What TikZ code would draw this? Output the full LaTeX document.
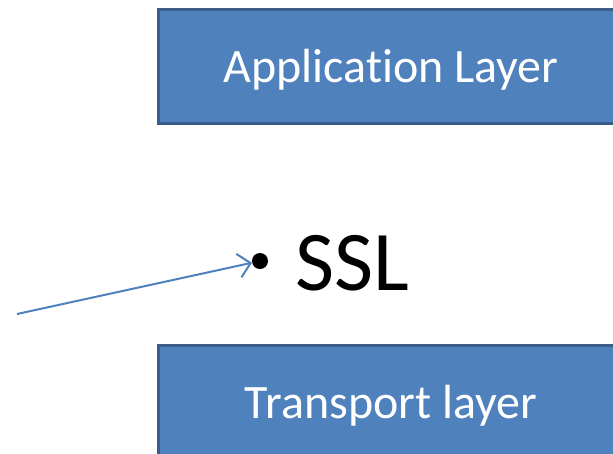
\documentclass[tikz,border=0pt]{standalone}
\usepackage{fontspec}
\setmainfont{Carlito}[Ligatures=NoCommon]
\usetikzlibrary{arrows.meta}

\definecolor{boxblue}{HTML}{4F81BD}
\definecolor{boxedge}{HTML}{385D8A}

\tikzset{
  layerbox/.style={draw=boxedge, line width=3pt, fill=boxblue, text=white,
    minimum width=466pt, minimum height=114pt, text height=36pt, text depth=4pt,
    font=\fontsize{48}{48}\selectfont},
}

\begin{document}
\begin{tikzpicture}[x=1pt, y=-1pt]
\useasboundingbox (0,0) rectangle (613,453);
\clip (0,0) rectangle (613,453);

\node[layerbox] (app) at (391,66) {Application Layer};
\node[layerbox] (trans) at (391,402) {Transport layer};

% SSL 항목
\node[circle, fill=black, inner sep=0pt, minimum size=16pt] (bul) at (260,261) {};
\node[anchor=base west, inner sep=0pt, font=\fontsize{85}{85}\selectfont] (ssl) at (295,290) {SSL};

\coordinate (src) at (17,314);
\draw[-{Straight Barb[length=12pt, width=24pt]}, boxblue, line width=2pt] (src) -- (bul);
\end{tikzpicture}
\end{document}
